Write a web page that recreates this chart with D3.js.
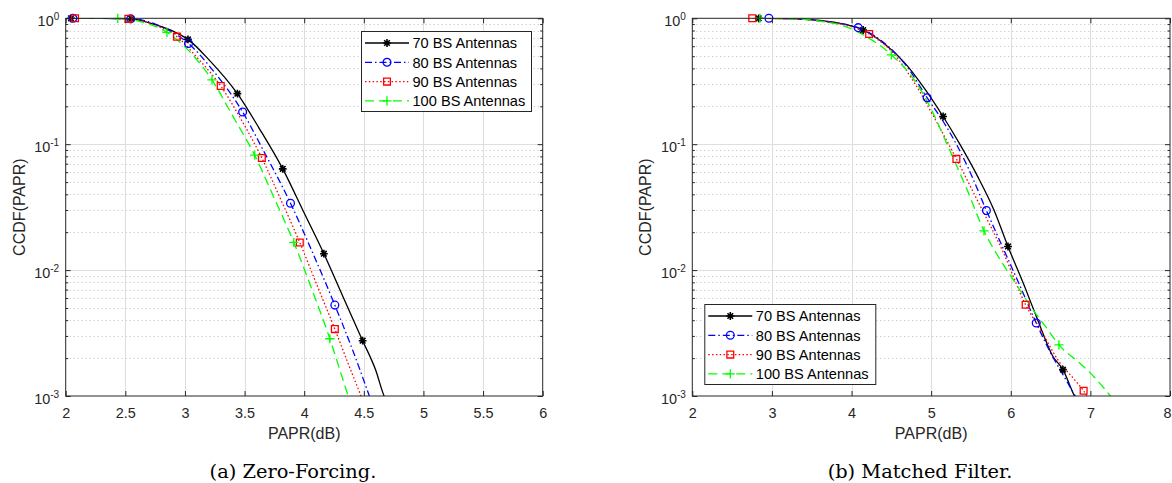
<!DOCTYPE html>
<html><head><meta charset="utf-8">
<script src="https://cdn.jsdelivr.net/npm/d3@7"></script>
<style>body{margin:0;background:#fff}svg{display:block}</style>
</head><body>
<svg id="chart" width="1172" height="483"></svg>
<script>
// ---------------- DATA ----------------
const legendLabels = ["70 BS Antennas", "80 BS Antennas", "90 BS Antennas", "100 BS Antennas"];
const zfXTicks = [2, 2.5, 3, 3.5, 4, 4.5, 5, 5.5, 6];
const mfXTicks = [2, 3, 4, 5, 6, 7, 8];
const yTickExps = [-3, -2, -1, 0];
const captions = ["(a) Zero-Forcing.", "(b) Matched Filter."];
const xLabel = "PAPR(dB)";
const yLabel = "CCDF(PAPR)";

// (a) Zero-Forcing curves
const zf70X = [2.0, 2.3, 2.55, 2.75, 2.9, 3.025, 3.2, 3.44, 3.62, 3.82, 4.0, 4.165, 4.33, 4.49, 4.6, 4.67, 4.7];
const zf70Y = [1.0, 0.999, 0.99, 0.89, 0.79, 0.68, 0.47, 0.252, 0.135, 0.0637, 0.0284, 0.0135, 0.006, 0.00275, 0.0016, 0.001, 0.00088];
const zf70MX = [2.045, 2.55, 3.025, 3.44, 3.82, 4.165, 4.49];
const zf70MY = [1.0, 0.99, 0.68, 0.252, 0.0637, 0.0135, 0.00275];

const zf80X = [2.0, 2.3, 2.55, 2.8, 3.03, 3.25, 3.484, 3.65, 3.885, 4.07, 4.257, 4.4, 4.56];
const zf80Y = [1.0, 0.999, 0.99, 0.86, 0.63, 0.37, 0.18, 0.092, 0.034, 0.0138, 0.00527, 0.0024, 0.00092];
const zf80MX = [2.06, 2.545, 3.03, 3.484, 3.885, 4.257];
const zf80MY = [1.0, 0.99, 0.63, 0.18, 0.034, 0.00527];

const zf90X = [2.0, 2.078, 2.3, 2.526, 2.75, 2.933, 3.1, 3.3, 3.47, 3.645, 3.8, 3.963, 4.1, 4.257, 4.38, 4.49];
const zf90Y = [1.0, 1.0, 0.999, 0.99, 0.88, 0.715, 0.49, 0.29, 0.158, 0.0776, 0.037, 0.01656, 0.0079, 0.0034, 0.0017, 0.00093];
const zf90MX = [2.078, 2.526, 2.933, 3.30, 3.645, 3.963, 4.257];
const zf90MY = [1.0, 0.99, 0.715, 0.29, 0.0776, 0.01656, 0.0034];

const zf100X = [2.0, 2.437, 2.65, 2.849, 3.05, 3.227, 3.4, 3.585, 3.75, 3.913, 4.07, 4.215, 4.3, 4.38];
const zf100Y = [1.0, 0.998, 0.93, 0.774, 0.53, 0.324, 0.168, 0.0818, 0.037, 0.0166, 0.0068, 0.00285, 0.0016, 0.00092];
const zf100MX = [2.437, 2.849, 3.227, 3.585, 3.913, 4.215];
const zf100MY = [0.998, 0.774, 0.324, 0.0818, 0.0166, 0.00285];

// (b) Matched Filter curves
const mf70X = [2.833, 3.2, 3.6, 3.9, 4.146, 4.45, 4.69, 4.92, 5.15, 5.36, 5.58, 5.79, 5.965, 6.174, 6.32, 6.53, 6.655, 6.8, 6.83];
const mf70Y = [1.0, 0.995, 0.962, 0.9, 0.807, 0.6, 0.427, 0.275, 0.166, 0.1, 0.056, 0.0299, 0.0154, 0.0074, 0.0043, 0.00206, 0.00162, 0.001, 0.00092];
const mf70MX = [2.833, 4.146, 5.15, 5.965, 6.655];
const mf70MY = [1.0, 0.807, 0.166, 0.0154, 0.00162];

const mf80X = [2.962, 3.3, 3.7, 4.083, 4.4, 4.7, 4.949, 5.2, 5.45, 5.694, 5.9, 6.1, 6.32, 6.5, 6.65, 6.83];
const mf80Y = [1.0, 0.99, 0.935, 0.843, 0.645, 0.41, 0.234, 0.135, 0.068, 0.0297, 0.0151, 0.0079, 0.0038, 0.0022, 0.0015, 0.00095];
const mf80MX = [2.962, 4.083, 4.949, 5.694, 6.32];
const mf80MY = [1.0, 0.843, 0.234, 0.0297, 0.0038];

const mf90X = [2.753, 3.2, 3.6, 3.9, 4.221, 4.5, 4.8, 5.05, 5.317, 5.6, 5.9, 6.187, 6.4, 6.6, 6.8, 6.915, 6.98];
const mf90Y = [1.0, 0.993, 0.955, 0.89, 0.75, 0.55, 0.30, 0.158, 0.0764, 0.0339, 0.0141, 0.0053, 0.00316, 0.0019, 0.00135, 0.0011, 0.00095];
const mf90MX = [2.753, 4.221, 5.317, 6.187, 6.915];
const mf90MY = [1.0, 0.75, 0.0764, 0.0053, 0.0011];

const mf100X = [2.849, 3.2, 3.6, 3.9, 4.2, 4.5, 4.8, 5.0, 5.2, 5.45, 5.664, 5.85, 6.03, 6.28, 6.45, 6.605, 6.865, 7.05, 7.28];
const mf100Y = [1.0, 0.993, 0.95, 0.87, 0.708, 0.513, 0.316, 0.19, 0.1, 0.0437, 0.0205, 0.0126, 0.0084, 0.00484, 0.00347, 0.00255, 0.00183, 0.00141, 0.00095];
const mf100MX = [2.849, 4.5, 5.664, 6.605];
const mf100MY = [1.0, 0.513, 0.0205, 0.00255];

// ---------------- STYLE ----------------
const styles = [
  {color: "#000000", dash: null, marker: "asterisk"},
  {color: "#0000ff", dash: "7,3,1.5,3", marker: "circle"},
  {color: "#ff0000", dash: "1.5,2.3", marker: "square"},
  {color: "#00ff00", dash: "9,5", marker: "plus"}
];
const axisColor = "#262626";
const sans = "'Liberation Sans', Arial, Helvetica, sans-serif";
const W = 1172;

const svg = d3.select("#chart");
svg.append("rect").attr("width", W).attr("height", 483).attr("fill", "#fff");
const defs = svg.append("defs");

function markerPath(type, cx, cy) {
  const p = d3.path();
  if (type === "asterisk") {
    const r = 3.9, q = r * 0.72;
    p.moveTo(cx - r, cy); p.lineTo(cx + r, cy);
    p.moveTo(cx, cy - r); p.lineTo(cx, cy + r);
    p.moveTo(cx - q, cy - q); p.lineTo(cx + q, cy + q);
    p.moveTo(cx - q, cy + q); p.lineTo(cx + q, cy - q);
  } else if (type === "circle") {
    const r = 3.9;
    p.moveTo(cx + r, cy); p.arc(cx, cy, r, 0, 2 * Math.PI);
  } else if (type === "square") {
    const h = 3.4;
    p.rect(cx - h, cy - h, 2 * h, 2 * h);
  } else if (type === "plus") {
    const r = 4.6;
    p.moveTo(cx - r, cy); p.lineTo(cx + r, cy);
    p.moveTo(cx, cy - r); p.lineTo(cx, cy + r);
  }
  return p.toString();
}

function styleAxis(sel) {
  sel.attr("font-family", sans).attr("font-size", 14.4);
  sel.select(".domain").remove();
  sel.selectAll(".tick line").attr("stroke", axisColor);
}

function drawPanel(cfg) {
  const {id, left, right, top, bottom, xDomain, xTicks, series, legend, caption, captionX} = cfg;
  const x = d3.scaleLinear().domain(xDomain).range([left, right]);
  const y = d3.scaleLog().domain([1e-3, 1]).range([bottom, top]);
  const g = svg.append("g");

  defs.append("clipPath").attr("id", "clip" + id)
    .append("rect").attr("x", left).attr("y", top).attr("width", right - left).attr("height", bottom - top);

  const minor = [];
  yTickExps.slice(0, -1).forEach(e => { for (let m = 2; m <= 9; m++) minor.push(m * Math.pow(10, e)); });
  const major = yTickExps.map(e => Math.pow(10, e));

  // minor grid (dotted)
  g.append("g").selectAll("line").data(minor).join("line")
    .attr("x1", left).attr("x2", right)
    .attr("y1", d => Math.round(y(d)) + 0.5).attr("y2", d => Math.round(y(d)) + 0.5)
    .attr("stroke", "#bdbdbd").attr("stroke-width", 1).attr("stroke-dasharray", "1,3");
  // major grid
  g.append("g").selectAll("line").data(major.slice(1, -1)).join("line")
    .attr("x1", left).attr("x2", right)
    .attr("y1", d => Math.round(y(d)) + 0.5).attr("y2", d => Math.round(y(d)) + 0.5)
    .attr("stroke", "#dedede").attr("stroke-width", 1);
  g.append("g").selectAll("line").data(xTicks.slice(1, -1)).join("line")
    .attr("y1", top).attr("y2", bottom)
    .attr("x1", d => Math.round(x(d)) + 0.5).attr("x2", d => Math.round(x(d)) + 0.5)
    .attr("stroke", "#dedede").attr("stroke-width", 1);

  // curves
  const line = d3.line().x(d => x(d[0])).y(d => y(d[1])).curve(d3.curveMonotoneX);
  const cg = g.append("g").attr("clip-path", `url(#clip${id})`);
  series.forEach((s, i) => {
    const st = styles[i];
    cg.append("path").datum(d3.zip(s.xs, s.ys))
      .attr("d", line).attr("fill", "none").attr("stroke", st.color)
      .attr("stroke-width", 1.3).attr("stroke-dasharray", st.dash);
  });
  // markers
  series.forEach((s, i) => {
    const st = styles[i];
    g.append("g").selectAll("path").data(d3.zip(s.mx, s.my)).join("path")
      .attr("d", d => markerPath(st.marker, x(d[0]), y(d[1])))
      .attr("fill", "none").attr("stroke", st.color)
      .attr("stroke-width", st.marker === "asterisk" ? 1.6 : 1.3);
  });

  // axes
  const fmt = d3.format("~g");
  const ax = g.append("g");
  const bAxis = ax.append("g").attr("transform", `translate(0,${bottom})`)
    .call(d3.axisBottom(x).tickValues(xTicks).tickSizeInner(-5).tickSizeOuter(0).tickPadding(12).tickFormat(fmt));
  styleAxis(bAxis);
  bAxis.selectAll("text").attr("fill", axisColor);
  // keep a label that would run past the page edge inside the picture
  bAxis.selectAll(".tick text").filter(d => x(d) + 5 > W).attr("text-anchor", "end").attr("x", d => W - 1 - x(d));
  const tAxis = ax.append("g").attr("transform", `translate(0,${top})`)
    .call(d3.axisTop(x).tickValues(xTicks).tickSizeInner(-5).tickSizeOuter(0).tickFormat(""));
  styleAxis(tAxis);

  const lAxis = ax.append("g").attr("transform", `translate(${left},0)`)
    .call(d3.axisLeft(y).tickValues(major).tickSizeInner(-5).tickSizeOuter(0).tickPadding(6.5).tickFormat(""));
  styleAxis(lAxis);
  lAxis.selectAll(".tick text").attr("dy", "0.5em").attr("fill", axisColor).each(function(d) {
    const t = d3.select(this);
    t.append("tspan").text("10");
    t.append("tspan").attr("font-size", 10).attr("dy", -6).text(String(Math.round(Math.log10(d))));
  });
  const lMinor = ax.append("g").attr("transform", `translate(${left},0)`)
    .call(d3.axisLeft(y).tickValues(minor).tickSizeInner(-2.5).tickSizeOuter(0).tickFormat(""));
  styleAxis(lMinor);
  const rAxis = ax.append("g").attr("transform", `translate(${right},0)`)
    .call(d3.axisRight(y).tickValues(major).tickSizeInner(-5).tickSizeOuter(0).tickFormat(""));
  styleAxis(rAxis);
  const rMinor = ax.append("g").attr("transform", `translate(${right},0)`)
    .call(d3.axisRight(y).tickValues(minor).tickSizeInner(-2.5).tickSizeOuter(0).tickFormat(""));
  styleAxis(rMinor);

  // box
  g.append("rect").attr("x", left).attr("y", top).attr("width", right - left).attr("height", bottom - top)
    .attr("fill", "none").attr("stroke", axisColor).attr("stroke-width", 1);

  // axis labels
  g.append("text").attr("x", (left + right) / 2).attr("y", bottom + 43)
    .attr("text-anchor", "middle").attr("font-family", sans).attr("font-size", 16)
    .attr("fill", axisColor).text(xLabel);
  g.append("text").attr("transform", `translate(${left - 41},${(top + bottom) / 2}) rotate(-90)`)
    .attr("text-anchor", "middle").attr("font-family", sans).attr("font-size", 16)
    .attr("fill", axisColor).text(yLabel);

  // legend
  const lg = g.append("g");
  lg.append("rect").attr("x", legend.x + 0.5).attr("y", legend.y + 0.5).attr("width", legend.w).attr("height", legend.h)
    .attr("fill", "#fff").attr("stroke", axisColor).attr("stroke-width", 1);
  legendLabels.forEach((lab, i) => {
    const st = styles[i];
    const ry = legend.y + 12 + i * 19.3;
    const x0 = legend.x + 4, x1 = legend.x + 48, xm = (x0 + x1) / 2;
    lg.append("line").attr("x1", x0).attr("x2", x1).attr("y1", ry).attr("y2", ry)
      .attr("stroke", st.color).attr("stroke-width", 1.3).attr("stroke-dasharray", st.dash);
    lg.append("path").attr("d", markerPath(st.marker, xm, ry)).attr("fill", "none")
      .attr("stroke", st.color).attr("stroke-width", st.marker === "asterisk" ? 1.6 : 1.3);
    lg.append("text").attr("x", legend.x + 51.5).attr("y", ry + 5.2)
      .attr("font-family", sans).attr("font-size", 14.6).attr("fill", "#000").text(lab);
  });

  // caption
  g.append("text").attr("x", captionX).attr("y", 477.5).attr("text-anchor", "middle")
    .attr("font-family", "'DejaVu Serif', serif").attr("font-size", 19.4).attr("fill", "#000").text(caption);
}

drawPanel({
  id: "a", left: 65.7, right: 542.7, top: 18.3, bottom: 396, xDomain: [2, 6], xTicks: zfXTicks,
  series: [
    {xs: zf70X, ys: zf70Y, mx: zf70MX, my: zf70MY},
    {xs: zf80X, ys: zf80Y, mx: zf80MX, my: zf80MY},
    {xs: zf90X, ys: zf90Y, mx: zf90MX, my: zf90MY},
    {xs: zf100X, ys: zf100Y, mx: zf100MX, my: zf100MY}
  ],
  legend: {x: 361, y: 31, w: 170, h: 80},
  caption: captions[0], captionX: 293
});
drawPanel({
  id: "b", left: 692.3, right: 1170, top: 18.3, bottom: 396, xDomain: [2, 8], xTicks: mfXTicks,
  series: [
    {xs: mf70X, ys: mf70Y, mx: mf70MX, my: mf70MY},
    {xs: mf80X, ys: mf80Y, mx: mf80MX, my: mf80MY},
    {xs: mf90X, ys: mf90Y, mx: mf90MX, my: mf90MY},
    {xs: mf100X, ys: mf100Y, mx: mf100MX, my: mf100MY}
  ],
  legend: {x: 704.3, y: 304, w: 171, h: 80},
  caption: captions[1], captionX: 920
});
</script>
</body></html>
